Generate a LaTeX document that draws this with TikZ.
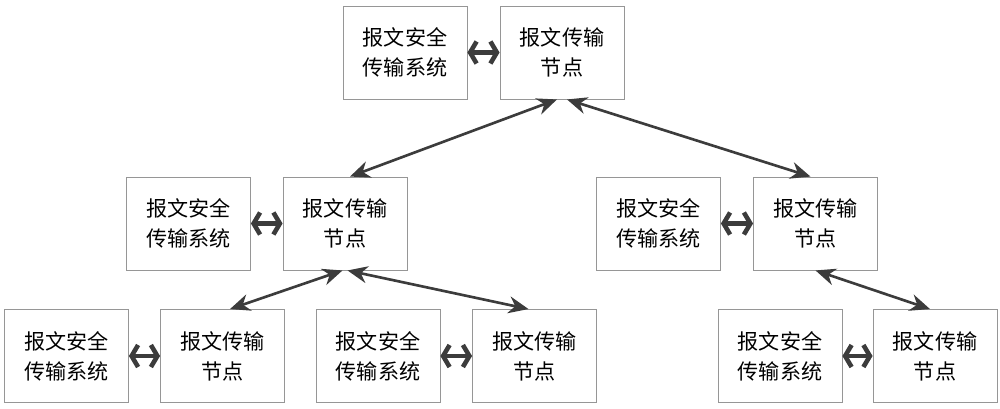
\documentclass[tikz,border=0pt]{standalone}
\usepackage{fontspec}
\newfontfamily\cjk{Noto Sans CJK SC}
\usetikzlibrary{arrows.meta}
\definecolor{boxgray}{RGB}{150,150,150}
\definecolor{arrowgray}{RGB}{60,60,60}

\begin{document}
\begin{tikzpicture}[
    box/.style={draw=boxgray, line width=0.5pt, minimum width=2.48cm, minimum height=1.86cm,
        align=center, font=\cjk\fontsize{12}{17}\selectfont},
    link/.style={draw=arrowgray, line width=1.5pt, {Stealth[length=0.4cm,width=0.34cm]}-{Stealth[length=0.4cm,width=0.34cm]}},
    pair/.style={draw=arrowgray, line width=2.6pt, {Straight Barb[length=0.13cm,width=0.44cm]}-{Straight Barb[length=0.13cm,width=0.44cm]}}
]
    \useasboundingbox (0,0) rectangle (20,8.16);
    % top level
    \node[box] (sysA) at (8.10,7.11) {报文安全\\传输系统};
    \node[box] (nodeA) at (11.24,7.11) {报文传输\\节点};
    % middle level
    \node[box] (sysB) at (3.77,3.69) {报文安全\\传输系统};
    \node[box] (nodeB) at (6.90,3.69) {报文传输\\节点};
    \node[box] (sysC) at (13.17,3.69) {报文安全\\传输系统};
    \node[box] (nodeC) at (16.31,3.69) {报文传输\\节点};
    % bottom level
    \node[box] (sysD) at (1.33,1.04) {报文安全\\传输系统};
    \node[box] (nodeD) at (4.45,1.04) {报文传输\\节点};
    \node[box] (sysE) at (7.56,1.04) {报文安全\\传输系统};
    \node[box] (nodeE) at (10.69,1.04) {报文传输\\节点};
    \node[box] (sysF) at (15.60,1.04) {报文安全\\传输系统};
    \node[box] (nodeF) at (18.70,1.04) {报文传输\\节点};
    % system <-> node
    \draw[pair](sysA)--(nodeA);
    \draw[pair](sysB)--(nodeB);
    \draw[pair](sysC)--(nodeC);
    \draw[pair](sysD)--(nodeD);
    \draw[pair](sysE)--(nodeE);
    \draw[pair](sysF)--(nodeF);
    % node <-> node
    \draw[link]([xshift=-0.1cm]nodeA.south)--([xshift=0.1cm]nodeB.north);
    \draw[link]([xshift=0.1cm]nodeA.south)--([xshift=-0.1cm]nodeC.north);
    \draw[link]([xshift=-0.05cm]nodeB.south)--([xshift=0.15cm]nodeD.north);
    \draw[link]([xshift=0.05cm]nodeB.south)--([xshift=-0.12cm]nodeE.north);
    \draw[link]([xshift=0cm]nodeC.south)--([xshift=-0.1cm]nodeF.north);
\end{tikzpicture}
\end{document}
